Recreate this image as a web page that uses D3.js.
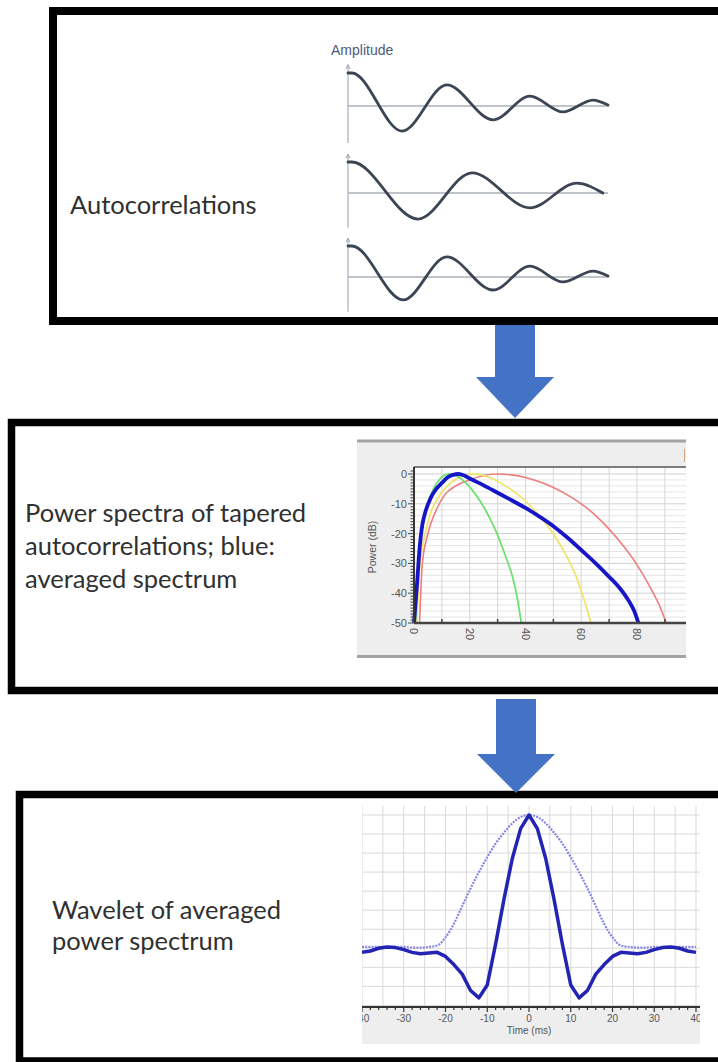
<!DOCTYPE html>
<html>
<head>
<meta charset="utf-8">
<script src="https://cdn.jsdelivr.net/npm/d3@7"></script>
<style>
  html, body { margin: 0; padding: 0; background: #fff; }
  svg { display: block; }
</style>
</head>
<body>
<svg id="fig" width="718" height="1062"></svg>
<script>
// ---------------- Autocorrelation traces: turning points (lag, normalised amplitude) ----------------
const acLag1 = [0, 1.5, 20.8, 38, 55.8, 70, 82.7, 94.2, 100];
const acAmp1 = [1.0, 1.0, -0.76, 0.64, -0.42, 0.30, -0.18, 0.18, 0.03];
const acLag2 = [0, 1.5, 26.9, 47.7, 70, 88, 98];
const acAmp2 = [1.0, 1.0, -0.84, 0.65, -0.48, 0.32, 0.0];
const acLag3 = [0, 1.5, 21.2, 38, 55.8, 70, 82.7, 94.2, 100];
const acAmp3 = [1.0, 1.0, -0.74, 0.65, -0.42, 0.35, -0.16, 0.19, 0.03];

// ---------------- Power spectra (frequency Hz, power dB) ----------------
const greenFreq = [0.5, 1.5, 3, 5, 7, 9, 11, 13, 15, 18, 21, 24, 27, 30, 33, 35.5, 37, 38.5];
const greenDb   = [-50, -30, -18, -10, -5, -2, -0.4, 0, -0.5, -2.5, -5.5, -9.5, -14.5, -20.5, -28, -35, -41.5, -50];
const yellowFreq = [1, 2, 4, 6, 9, 12, 15, 18, 21, 24, 28, 32, 36, 40, 44, 48, 52, 55, 58, 61, 63.5];
const yellowDb   = [-50, -32, -20, -13, -7.5, -4, -1.8, -0.5, 0, -0.3, -1.5, -3.5, -6, -9, -13, -17.5, -23, -28, -34, -42, -50];
const redFreq = [2, 3, 5, 8, 11, 15, 20, 25, 30, 35, 40, 45, 50, 55, 60, 65, 70, 75, 80, 85, 88, 90.5];
const redDb   = [-50, -30, -20, -12, -7, -4, -2, -0.5, 0, -0.3, -1.2, -2.6, -4.5, -7, -10, -13.8, -18.5, -24, -30.5, -38.5, -44, -50];
const blueFreq = [0, 1, 2, 3, 4, 6, 8, 10, 12, 14, 16, 18, 20, 25, 30, 35, 40, 45, 50, 55, 60, 65, 70, 74, 77, 79, 80.5];
const blueDb   = [-50, -38, -25, -17, -13, -8, -5, -3, -1.2, -0.3, 0, -0.5, -1.5, -3.8, -6.3, -8.8, -11.4, -14.3, -17.5, -21.3, -25.5, -29.8, -34.5, -38.5, -42.5, -46, -50];
const specXTicks = [0, 20, 40, 60, 80];
const specYTicks = [0, -10, -20, -30, -40, -50];

// ---------------- Wavelets (time ms, amplitude) ----------------
const waveTime = [-40, -38, -36, -34, -32, -30, -28, -26, -24, -22, -20, -18, -16, -14, -12, -10, -8, -6, -4, -2,
                  0, 2, 4, 6, 8, 10, 12, 14, 16, 18, 20, 22, 24, 26, 28, 30, 32, 34, 36, 38, 40];
const waveMixed = [-0.01, 0.0, 0.02, 0.03, 0.025, 0.01, -0.01, -0.02, -0.015, -0.01, -0.04, -0.1, -0.17, -0.29, -0.345, -0.25, 0.05, 0.38, 0.68, 0.9,
                   1.0, 0.9, 0.68, 0.38, 0.05, -0.25, -0.345, -0.29, -0.17, -0.1, -0.04, -0.01, -0.015, -0.02, -0.01, 0.01, 0.025, 0.03, 0.02, 0.0, -0.01];
const waveZero  = [0.03, 0.03, 0.03, 0.03, 0.03, 0.03, 0.025, 0.025, 0.03, 0.04, 0.1, 0.2, 0.33, 0.46, 0.58, 0.69, 0.79, 0.87, 0.94, 0.985,
                   1.0, 0.985, 0.94, 0.87, 0.79, 0.69, 0.58, 0.46, 0.33, 0.2, 0.1, 0.04, 0.03, 0.025, 0.025, 0.03, 0.03, 0.03, 0.03, 0.03, 0.03];
const waveXTicks = [-40, -30, -20, -10, 0, 10, 20, 30, 40];

// ---------------- Captions ----------------
const captionAc   = ["Autocorrelations"];
const captionSpec = ["Power spectra of tapered", "autocorrelations; blue:", "averaged spectrum"];
const captionWave = ["Wavelet of averaged", "power spectrum"];

const svg = d3.select("#fig");
const zip = (a, b) => a.map((v, i) => [v, b[i]]);
const captionFont = "Lato, 'Open Sans', sans-serif";

// ---------------- Frames ----------------
function frame(x, y, bottom, sw) {
  svg.append("rect").attr("x", x).attr("y", y).attr("width", 900).attr("height", bottom - y)
    .attr("fill", "none").attr("stroke", "#000").attr("stroke-width", sw);
}
frame(53, 11, 321, 8);
frame(11.5, 422.5, 690.5, 7.5);
frame(19.5, 794.5, 1061, 7.5);

function caption(lines, x, y0, dy, size) {
  const t = svg.append("text").attr("font-family", captionFont).attr("font-size", size)
    .attr("fill", "#303030");
  lines.forEach((s, i) => t.append("tspan").attr("x", x).attr("y", y0 + i * dy).text(s));
}
caption(captionAc, 70, 214, 33, 25.5);
caption(captionSpec, 25, 522, 33, 25.5);
caption(captionWave, 52, 919, 31, 25.5);

// ---------------- Flow arrows ----------------
function arrow(cx, top, headTop, tip) {
  const p = d3.path();
  p.moveTo(cx - 20, top); p.lineTo(cx + 20, top); p.lineTo(cx + 20, headTop);
  p.lineTo(cx + 39, headTop); p.lineTo(cx, tip); p.lineTo(cx - 39, headTop);
  p.lineTo(cx - 20, headTop); p.closePath();
  svg.append("path").attr("d", p.toString()).attr("fill", "#4472c4");
}
arrow(515, 325, 377, 418);
arrow(516, 699, 754, 793);

// ---------------- Panel 1: autocorrelations ----------------
const acX = d3.scaleLinear().domain([0, 100]).range([348, 608]);
const acRows = [
  { lag: acLag1, amp: acAmp1, zero: 106, half: 33 },
  { lag: acLag2, amp: acAmp2, zero: 193, half: 31 },
  { lag: acLag3, amp: acAmp3, zero: 277, half: 31 }
];
svg.append("text").attr("x", 331).attr("y", 55).attr("font-family", "'Liberation Sans Narrow', 'Liberation Sans', sans-serif")
  .attr("font-size", 14).attr("fill", "#4d5b78").text("Amplitude");
acRows.forEach(r => {
  const y = d3.scaleLinear().domain([-1, 1]).range([r.zero + r.half, r.zero - r.half]);
  const g = svg.append("g");
  g.append("line").attr("x1", acX(0)).attr("x2", acX(0)).attr("y1", y(1.25)).attr("y2", y(-1.12))
    .attr("stroke", "#b9bec7").attr("stroke-width", 1.5);
  g.append("path").attr("d", `M${acX(0) - 2},${y(1.25) + 4}L${acX(0)},${y(1.25)}L${acX(0) + 2},${y(1.25) + 4}`)
    .attr("fill", "none").attr("stroke", "#9aa0aa").attr("stroke-width", 1);
  g.append("line").attr("x1", acX(0)).attr("x2", acX(100)).attr("y1", y(0)).attr("y2", y(0))
    .attr("stroke", "#aab0ba").attr("stroke-width", 1.5);
  // monotone interpolation between turning points gives flat tops and troughs
  const line = d3.line().x(d => acX(d[0])).y(d => y(d[1])).curve(d3.curveMonotoneX);
  g.append("path").attr("d", line(zip(r.lag, r.amp))).attr("fill", "none")
    .attr("stroke", "#3b4553").attr("stroke-width", 2.8).attr("stroke-linecap", "round");
});

// ---------------- Panel 2: power spectra ----------------
const sp = svg.append("g");
sp.append("rect").attr("x", 357).attr("y", 440).attr("width", 329).attr("height", 218).attr("fill", "#eeeeee");
sp.append("line").attr("x1", 357).attr("x2", 686).attr("y1", 441).attr("y2", 441).attr("stroke", "#a3a3a3").attr("stroke-width", 3);
sp.append("line").attr("x1", 357).attr("x2", 686).attr("y1", 656.5).attr("y2", 656.5).attr("stroke", "#a3a3a3").attr("stroke-width", 3);
sp.append("line").attr("x1", 684.5).attr("x2", 684.5).attr("y1", 449).attr("y2", 462).attr("stroke", "#d9a27a").attr("stroke-width", 1);

const sx = d3.scaleLinear().domain([0, 80]).range([414, 637]);
const sy = d3.scaleLinear().domain([-50, 0]).range([623, 474]);
const sxMax = sx.invert(686), syMax = sy.invert(467);
sp.append("rect").attr("x", sx(0)).attr("y", sy(syMax)).attr("width", sx(sxMax) - sx(0)).attr("height", sy(-50) - sy(syMax)).attr("fill", "#fff");

// grid
sp.append("g").selectAll("line").data(d3.range(-48, 2, 2)).join("line")
  .attr("x1", sx(0)).attr("x2", sx(sxMax)).attr("y1", d => sy(d)).attr("y2", d => sy(d))
  .attr("stroke", d => d % 10 === 0 ? "#cfcfcf" : "#e6e6e6").attr("stroke-width", 1);
sp.append("g").selectAll("line").data(d3.range(10, 100, 10)).join("line")
  .attr("x1", d => sx(d)).attr("x2", d => sx(d)).attr("y1", sy(syMax)).attr("y2", sy(-50))
  .attr("stroke", "#d6d6d6").attr("stroke-width", 1);

// spectra
const specLine = d3.line().x(d => sx(d[0])).y(d => sy(d[1])).curve(d3.curveMonotoneX);
const spectra = [
  { f: redFreq, p: redDb, c: "#ee7d7d", w: 1.6 },
  { f: yellowFreq, p: yellowDb, c: "#f2e36c", w: 1.8 },
  { f: greenFreq, p: greenDb, c: "#6fe06f", w: 1.8 },
  { f: blueFreq, p: blueDb, c: "#1616c8", w: 3.8 }
];
spectra.forEach(s => sp.append("path").attr("d", specLine(zip(s.f, s.p))).attr("fill", "none")
  .attr("stroke", s.c).attr("stroke-width", s.w).attr("stroke-linejoin", "round"));

// frame and axes
sp.append("line").attr("x1", sx(0)).attr("x2", sx(sxMax)).attr("y1", sy(syMax)).attr("y2", sy(syMax)).attr("stroke", "#555").attr("stroke-width", 1.3);
sp.append("line").attr("x1", sx(0)).attr("x2", sx(0)).attr("y1", sy(syMax)).attr("y2", sy(-50)).attr("stroke", "#333").attr("stroke-width", 2);
sp.append("line").attr("x1", sx(0)).attr("x2", sx(sxMax)).attr("y1", sy(-50)).attr("y2", sy(-50)).attr("stroke", "#444").attr("stroke-width", 2.5);
sp.append("g").selectAll("line").data(d3.range(-50, 2, 1)).join("line")
  .attr("x1", d => sx(0) - (d % 10 === 0 ? 6 : 3.5)).attr("x2", sx(0)).attr("y1", d => sy(d)).attr("y2", d => sy(d))
  .attr("stroke", "#444").attr("stroke-width", 1);
sp.append("g").selectAll("line").data(d3.range(10, 100, 20)).join("line")
  .attr("x1", d => sx(d)).attr("x2", d => sx(d)).attr("y1", sy(-50)).attr("y2", sy(-50) - 4)
  .attr("stroke", "#444").attr("stroke-width", 1.5);
sp.append("g").selectAll("text").data(specYTicks).join("text")
  .attr("x", sx(0) - 7).attr("y", d => sy(d) + 4).attr("text-anchor", "end")
  .attr("font-family", "'Liberation Sans', sans-serif").attr("font-size", 11).attr("fill", "#555").text(d => d);
sp.append("g").selectAll("text").data(specXTicks).join("text")
  .attr("transform", d => `translate(${sx(d) - 4},${sy(-50) + 5}) rotate(90)`)
  .attr("text-anchor", "start")
  .attr("font-family", "'Liberation Sans', sans-serif").attr("font-size", 11).attr("fill", "#555").text(d => d);
sp.append("text").attr("transform", `translate(376,${(sy(-50) + sy(syMax)) / 2 + 2}) rotate(-90)`)
  .attr("text-anchor", "middle").attr("font-family", "'Liberation Sans', sans-serif").attr("font-size", 10.5)
  .attr("fill", "#555").text("Power (dB)");

// ---------------- Panel 3: wavelets ----------------
const wx = d3.scaleLinear().domain([-40, 40]).range([362, 696]);
const wy = d3.scaleLinear().domain([0, 1]).range([951, 815]);
const wyMin = wy.invert(1007), wyMax = wy.invert(806);
svg.append("clipPath").attr("id", "waveClip").append("rect").attr("x", 362).attr("y", 800).attr("width", 338).attr("height", 245);
const wv = svg.append("g").attr("clip-path", "url(#waveClip)");
wv.append("rect").attr("x", 362).attr("y", wy(wyMin)).attr("width", 338).attr("height", 1044 - wy(wyMin)).attr("fill", "#eeeeee");

// grid
wv.append("g").selectAll("line").data(d3.range(-40, 45, 5)).join("line")
  .attr("x1", d => wx(d)).attr("x2", d => wx(d)).attr("y1", wy(wyMax)).attr("y2", wy(wyMin))
  .attr("stroke", "#d9d9d9").attr("stroke-width", 1);
wv.append("g").selectAll("line").data(d3.range(-0.4, 1.1, 0.14)).join("line")
  .attr("x1", wx(-40)).attr("x2", wx(42)).attr("y1", d => wy(d)).attr("y2", d => wy(d))
  .attr("stroke", "#d9d9d9").attr("stroke-width", 1);

const wLine = d3.line().x(d => wx(d[0])).y(d => wy(d[1]));
wv.append("path").attr("d", wLine.curve(d3.curveMonotoneX)(zip(waveTime, waveZero))).attr("fill", "none")
  .attr("stroke", "#8585e6").attr("stroke-width", 2.2).attr("stroke-dasharray", "2,1.2");
wv.append("path").attr("d", wLine.curve(d3.curveLinear)(zip(waveTime, waveMixed))).attr("fill", "none")
  .attr("stroke", "#2323b4").attr("stroke-width", 3.5).attr("stroke-linejoin", "round");

// time axis
wv.append("line").attr("x1", 362).attr("x2", 700).attr("y1", wy(wyMin)).attr("y2", wy(wyMin)).attr("stroke", "#333").attr("stroke-width", 2);
wv.append("g").selectAll("line").data(d3.range(-40, 42, 2)).join("line")
  .attr("x1", d => wx(d)).attr("x2", d => wx(d)).attr("y1", wy(wyMin)).attr("y2", d => wy(wyMin) + (d % 10 === 0 ? 5 : 3))
  .attr("stroke", "#333").attr("stroke-width", 1.2);
wv.append("g").selectAll("text").data(waveXTicks).join("text")
  .attr("x", d => wx(d)).attr("y", wy(wyMin) + 15).attr("text-anchor", "middle")
  .attr("font-family", "'Liberation Sans', sans-serif").attr("font-size", 10).attr("fill", "#555").text(d => d);
wv.append("text").attr("x", wx(0)).attr("y", wy(wyMin) + 27).attr("text-anchor", "middle")
  .attr("font-family", "'Liberation Sans', sans-serif").attr("font-size", 10).attr("fill", "#555").text("Time (ms)");
</script>
</body>
</html>
